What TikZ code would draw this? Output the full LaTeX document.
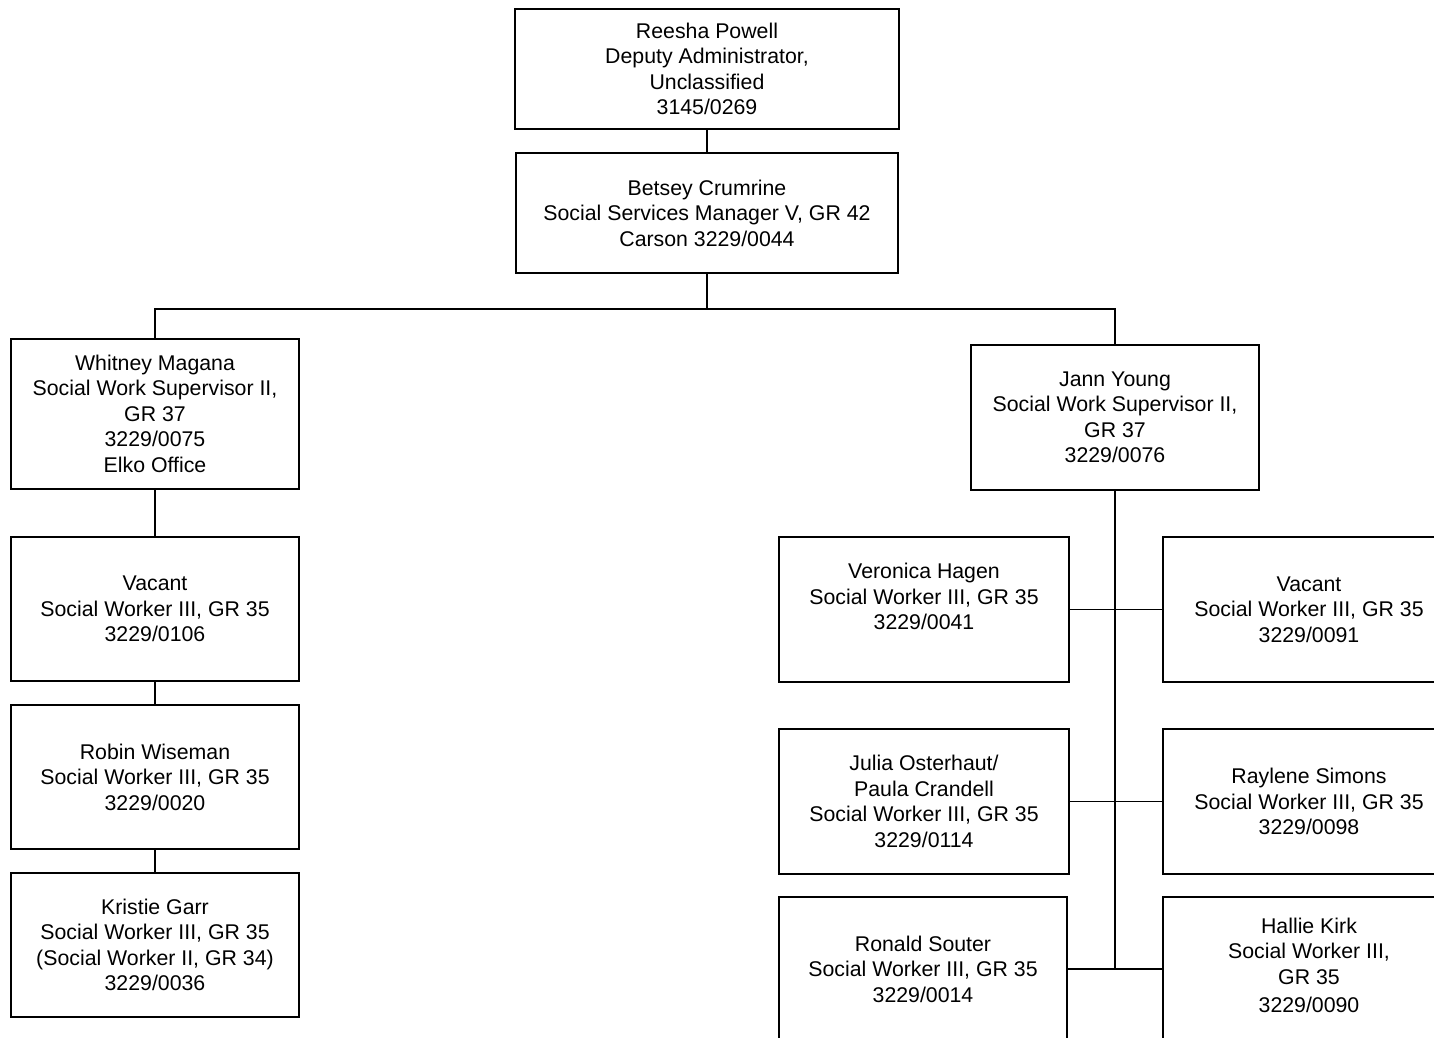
\documentclass[tikz,border=0pt]{standalone}
\usepackage{fontspec}
\setmainfont{Liberation Sans}
\begin{document}
\begin{tikzpicture}[x=1pt,y=-1pt,
  box/.style={draw=black, line width=2pt, fill=white, rectangle, align=center,
    inner sep=2pt, font=\fontsize{21.3}{25.5}\selectfont},
  wire/.style={draw=black, line width=1.7pt}]
\useasboundingbox (0,0) rectangle (1434,1037);
\clip (0,0) rectangle (1434,1037);
\fill[white] (0,0) rectangle (1434,1037);

\node[box, minimum width=384pt, minimum height=120pt] (reesha) at (707,69)
  {Reesha Powell\\Deputy Administrator,\\Unclassified\\3145/0269};
\node[box, minimum width=382pt, minimum height=120pt] (betsey) at (707,213)
  {Betsey Crumrine\\Social Services Manager V, GR 42\\Carson 3229/0044};

\node[box, minimum width=288pt, minimum height=150pt] (whitney) at (155,413.5)
  {Whitney Magana\\Social Work Supervisor II,\\GR 37\\3229/0075\\Elko Office};
\node[box, minimum width=288pt, minimum height=145pt] (jann) at (1115,417.5)
  {Jann Young\\Social Work Supervisor II,\\GR 37\\3229/0076};

\node[box, minimum width=288pt, minimum height=144pt] (vacl) at (155,609)
  {Vacant\\Social Worker III, GR 35\\3229/0106};
\node[box, minimum width=288pt, minimum height=144pt] (robin) at (155,777)
  {Robin Wiseman\\Social Worker III, GR 35\\3229/0020};
\node[box, minimum width=288pt, minimum height=144pt] (kristie) at (155,945)
  {Kristie Garr\\Social Worker III, GR 35\\(Social Worker II, GR 34)\\3229/0036};

\node[box, minimum width=290pt, minimum height=145pt] (veronica) at (924,609.5)
  {Veronica Hagen\\Social Worker III, GR 35\\3229/0041\\\mbox{}};
\node[box, minimum width=292pt, minimum height=145pt] (vacr) at (1309,609.5)
  {Vacant\\Social Worker III, GR 35\\3229/0091};
\node[box, minimum width=290pt, minimum height=145pt] (julia) at (924,801.5)
  {Julia Osterhaut/\\Paula Crandell\\Social Worker III, GR 35\\3229/0114};
\node[box, minimum width=292pt, minimum height=145pt] (raylene) at (1309,801.5)
  {Raylene Simons\\Social Worker III, GR 35\\3229/0098};
\node[box, minimum width=288pt, minimum height=144pt] (ronald) at (923,969)
  {Ronald Souter\\Social Worker III, GR 35\\3229/0014};
\node[box, minimum width=292pt, minimum height=144pt] (hallie) at (1309,969)
  {Hallie Kirk\\Social Worker III,\\GR 35\\[3pt]3229/0090\\[-18pt]\mbox{}};

\draw[wire] (reesha.south) -- (betsey.north);
\draw[wire] (betsey.south) -- ++(0,35) coordinate (bus);
\draw[wire] (whitney.north) |- (bus) -| (jann.north);
\draw[wire] (whitney.south) -- (vacl.north);
\draw[wire] (vacl.south) -- (robin.north);
\draw[wire] (robin.south) -- (kristie.north);
\coordinate (trunkend) at (jann.south |- ronald.east);
\draw[wire] (jann.south) -- (trunkend);
\draw[wire] (veronica.east) -- (vacr.west);
\draw[wire] (julia.east) -- (raylene.west);
\draw[wire] (ronald.east) -- (hallie.west);
\end{tikzpicture}
\end{document}
